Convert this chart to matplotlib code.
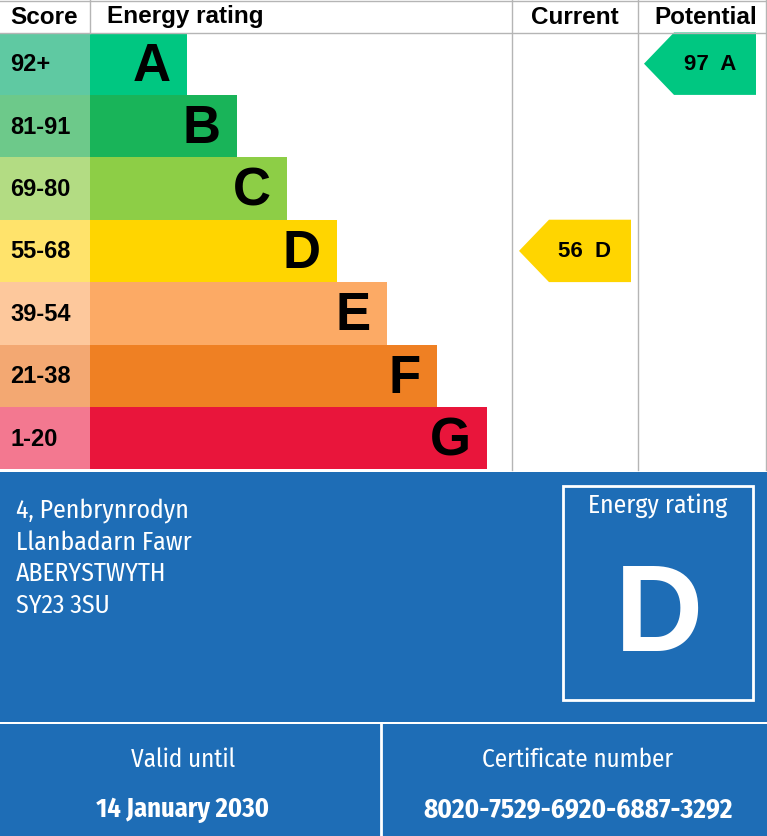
import matplotlib.pyplot as plt
from matplotlib.patches import Rectangle, Polygon

bands = ['A', 'B', 'C', 'D', 'E', 'F', 'G']
scores = ['92+', '81-91', '69-80', '55-68', '39-54', '21-38', '1-20']
lower = [92, 81, 69, 55, 39, 21, 1]
bar_colors = ['#00c781', '#19b459', '#8dce46', '#ffd500', '#fcaa65', '#ef8023', '#e9153b']
score_colors = ['#5fc9a2', '#6dc98a', '#b3dc83', '#ffe36b', '#fdc89c', '#f3a872', '#f37890']
current = 56
potential = 97
address = ['4, Penbrynrodyn', 'Llanbadarn Fawr', 'ABERYSTWYTH', 'SY23 3SU']
valid_until = '14 January 2030'
cert_no = '8020-7529-6920-6887-3292'

blue = '#1e6db6'
grey = '#b5b5b5'
arial = ['Liberation Sans', 'Arimo', 'DejaVu Sans']
narrow = ['Fira Sans Condensed', 'Barlow Semi Condensed', 'DejaVu Sans']

fig = plt.figure(figsize=(7.67, 8.36), dpi=100)
ax = fig.add_axes([0, 0, 1, 1])
ax.set_xlim(0, 767)
ax.set_ylim(836, 0)
ax.axis('off')

top = 32.5
h = 62.4


def band_of(v):
    for i, lo in enumerate(lower):
        if v >= lo:
            return i
    return len(lower) - 1


# bands
for i, (b, s) in enumerate(zip(bands, scores)):
    y0 = top + i * h
    right = 187 + 50 * i
    ax.add_patch(Rectangle((0, y0), 90, h, color=score_colors[i], lw=0))
    ax.add_patch(Rectangle((90, y0), right - 90, h, color=bar_colors[i], lw=0))
    ax.text(10, y0 + h / 2 + 1, s, fontsize=17, fontweight='bold', family=arial,
            va='center', ha='left')
    ax.text(right - 16, y0 + h / 2 + 3, b, fontsize=38, fontweight='bold',
            family=arial, va='center', ha='right')

# grid lines
ax.plot([0, 767], [1, 1], color=grey, lw=1)
ax.plot([0, 767], [top, top], color=grey, lw=1)
ax.plot([90, 90], [0, top], color=grey, lw=1)
for x in (512, 638):
    ax.plot([x, x], [0, 470], color=grey, lw=1)
ax.plot([766, 766], [0, 470], color=grey, lw=1)

# headers
hdr = dict(fontsize=17.5, fontweight='bold', family=arial, va='center')
ax.text(44, 17, 'Score', ha='center', **hdr)
ax.text(107, 17, 'Energy rating', ha='left', **hdr)
ax.text(575, 17, 'Current', ha='center', **hdr)
ax.text(706, 17, 'Potential', ha='center', **hdr)


def arrow(v, x_tip, x_right):
    i = band_of(v)
    y0 = top + i * h
    ym = y0 + h / 2
    pts = [(x_tip, ym), (x_tip + 30, y0), (x_right, y0), (x_right, y0 + h), (x_tip + 30, y0 + h)]
    ax.add_patch(Polygon(pts, closed=True, color=bar_colors[i], lw=0))
    ax.text((x_tip + x_right) / 2 + 10, ym + 1, f'{v}  {bands[i]}', fontsize=16,
            fontweight='bold', family=arial, ha='center', va='center')


arrow(current, 519, 631)
arrow(potential, 644, 756)

# blue panels
ax.add_patch(Rectangle((0, 472), 767, 250, color=blue, lw=0))
ax.add_patch(Rectangle((0, 724), 767, 112, color=blue, lw=0))
ax.plot([381, 381], [724, 836], color='white', lw=2)

for k, line in enumerate(address):
    ax.text(16, 511 + k * 31.5, line, color='white', fontsize=18.5, family=narrow,
            va='center', ha='left')

ax.add_patch(Rectangle((563, 486), 190, 214, fill=False, ec='white', lw=2))
ax.text(658, 506, 'Energy rating', color='white', fontsize=18.5, family=narrow,
        ha='center', va='center')
ax.text(659, 619, bands[band_of(current)], color='white', fontsize=88, fontweight='bold',
        family=arial, ha='center', va='center')

ax.text(183, 760, 'Valid until', color='white', fontsize=18, family=narrow, ha='center', va='center')
ax.text(183, 810, valid_until, color='white', fontsize=19, fontweight='bold', family=narrow,
        ha='center', va='center')
ax.text(578, 760, 'Certificate number', color='white', fontsize=18, family=narrow,
        ha='center', va='center')
ax.text(578, 810, cert_no, color='white', fontsize=19.5, fontweight='bold', family=narrow,
        ha='center', va='center')

fig.savefig('out.png', dpi=100)
